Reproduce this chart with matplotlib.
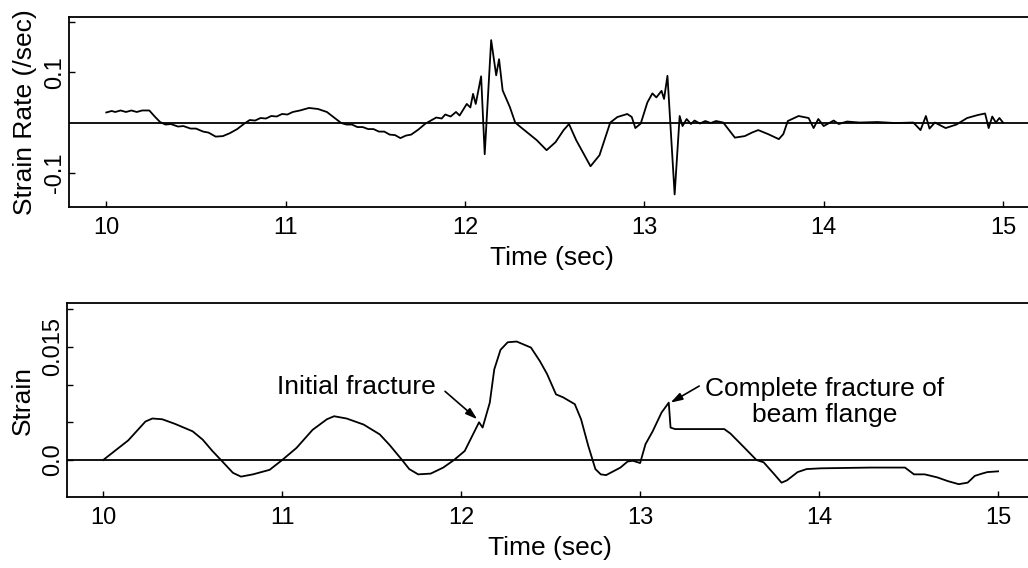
"""Strain rate and strain histories around beam flange fracture."""

import matplotlib
matplotlib.use("Agg")
import matplotlib.pyplot as plt

plt.rcParams["font.family"] = ["Liberation Sans", "DejaVu Sans"]

# top panel: strain rate (/sec)
RATE_T = [
    10.00, 10.03, 10.05, 10.08, 10.11, 10.14, 10.17, 10.20, 10.24, 10.27,
    10.30, 10.33, 10.36, 10.40, 10.43, 10.47, 10.50, 10.54, 10.57, 10.61,
    10.65, 10.69, 10.73, 10.77, 10.80, 10.83, 10.86, 10.89, 10.92, 10.95,
    10.98, 11.01, 11.04, 11.08, 11.13, 11.18, 11.23, 11.27, 11.31, 11.34,
    11.37, 11.40, 11.43, 11.46, 11.49, 11.52, 11.55, 11.58, 11.61, 11.64,
    11.67, 11.70, 11.74, 11.78, 11.80, 11.84, 11.87, 11.89, 11.92, 11.95,
    11.97, 12.01, 12.03, 12.045, 12.06, 12.09, 12.11, 12.146, 12.174, 12.19,
    12.21, 12.25, 12.28, 12.31, 12.365, 12.40, 12.455, 12.505, 12.55, 12.58,
    12.62, 12.70, 12.75, 12.81, 12.85, 12.905, 12.93, 12.95, 12.98, 13.017,
    13.045, 13.067, 13.096, 13.11, 13.129, 13.169, 13.197, 13.213, 13.236, 13.26,
    13.28, 13.31, 13.34, 13.37, 13.40, 13.44, 13.505, 13.56, 13.60, 13.635,
    13.69, 13.75, 13.775, 13.80, 13.86, 13.916, 13.944, 13.97, 14.00, 14.056,
    14.084, 14.13, 14.20, 14.30, 14.40, 14.50, 14.54, 14.57, 14.59, 14.62,
    14.68, 14.74, 14.80, 14.86, 14.90, 14.92, 14.94, 14.96, 14.98, 15.00,
]
RATE_V = [
    0.020, 0.023, 0.021, 0.024, 0.021, 0.024, 0.021, 0.024, 0.024, 0.012,
    0.001, -0.004, -0.003, -0.008, -0.007, -0.012, -0.012, -0.018, -0.020, -0.028,
    -0.027, -0.021, -0.013, -0.002, 0.005, 0.004, 0.009, 0.008, 0.013, 0.012,
    0.017, 0.016, 0.021, 0.024, 0.029, 0.027, 0.021, 0.010, -0.001, -0.004,
    -0.004, -0.009, -0.009, -0.013, -0.013, -0.018, -0.018, -0.024, -0.025, -0.031,
    -0.026, -0.024, -0.014, -0.002, 0.002, 0.010, 0.008, 0.016, 0.012, 0.021,
    0.014, 0.037, 0.030, 0.057, 0.037, 0.092, -0.063, 0.164, 0.094, 0.126,
    0.064, 0.031, 0.000, -0.009, -0.025, -0.035, -0.055, -0.039, -0.015, -0.003,
    -0.035, -0.087, -0.065, 0.000, 0.011, 0.017, 0.011, -0.011, -0.002, 0.040,
    0.058, 0.050, 0.063, 0.047, 0.093, -0.143, 0.013, -0.007, 0.007, -0.003,
    0.004, -0.002, 0.003, -0.001, 0.003, 0.000, -0.030, -0.027, -0.020, -0.015,
    -0.023, -0.033, -0.023, 0.003, 0.013, 0.009, -0.011, 0.007, -0.007, 0.004,
    -0.003, 0.002, 0.000, 0.001, -0.001, 0.000, -0.015, 0.013, -0.012, 0.000,
    -0.011, -0.004, 0.009, 0.015, 0.018, -0.011, 0.012, 0.000, 0.009, 0.000,
]

# bottom panel: strain
STRAIN_T = [
    10.00, 10.14, 10.236, 10.275, 10.33, 10.40, 10.50, 10.556, 10.61, 10.67,
    10.725, 10.77, 10.837, 10.93, 11.00, 11.08, 11.17, 11.25, 11.29, 11.36,
    11.455, 11.545, 11.60, 11.67, 11.71, 11.76, 11.83, 11.90, 11.96, 12.02,
    12.06, 12.10, 12.12, 12.16, 12.185, 12.22, 12.26, 12.31, 12.39, 12.44,
    12.48, 12.53, 12.57, 12.635, 12.67, 12.71, 12.75, 12.78, 12.81, 12.89,
    12.93, 12.96, 13.00, 13.03, 13.07, 13.12, 13.16, 13.17, 13.195, 13.47,
    13.505, 13.58, 13.65, 13.69, 13.75, 13.79, 13.82, 13.88, 13.93, 14.01,
    14.29, 14.48, 14.53, 14.59, 14.66, 14.72, 14.78, 14.83, 14.87, 14.91,
    14.94, 15.00,
]
STRAIN_V = [
    0.0000, 0.0026, 0.0051, 0.0055, 0.0054, 0.0048, 0.0038, 0.0027, 0.0012, -0.0003,
    -0.0017, -0.0022, -0.0019, -0.0013, 0.0000, 0.0016, 0.0040, 0.0054, 0.0058, 0.0055,
    0.0047, 0.0034, 0.0020, 0.0000, -0.0012, -0.0019, -0.0018, -0.0010, 0.0000, 0.0012,
    0.0031, 0.0050, 0.0043, 0.0076, 0.0120, 0.0146, 0.0156, 0.0157, 0.0149, 0.0131,
    0.0114, 0.0087, 0.0083, 0.0074, 0.0054, 0.0019, -0.0012, -0.0019, -0.0020, -0.0010,
    -0.0002, -0.0001, -0.0004, 0.0021, 0.0038, 0.0063, 0.0076, 0.0043, 0.0041, 0.0041,
    0.0035, 0.0017, 0.0000, -0.0003, -0.0019, -0.0030, -0.0027, -0.0016, -0.0012, -0.0011,
    -0.0010, -0.0010, -0.0019, -0.0019, -0.0023, -0.0028, -0.0032, -0.0030, -0.0021, -0.0018,
    -0.0016, -0.0015,
]

X_TICKS = [10, 11, 12, 13, 14, 15]
RATE_TICKS = [-0.1, 0.1, 0.2]
RATE_TICK_LABELS = ["-0.1", "0.1", ""]
STRAIN_TICKS = [0.0, 0.005, 0.01, 0.015, 0.02]
STRAIN_TICK_LABELS = ["0.0", "", "", "0.015", ""]

LW = 1.3


def style_axes(ax):
    ax.spines["right"].set_visible(False)
    for side in ("top", "left", "bottom"):
        ax.spines[side].set_linewidth(LW)
    ax.axhline(0, color="black", lw=LW)
    ax.set_xticks(X_TICKS)
    ax.set_xticklabels([str(t) for t in X_TICKS])
    ax.tick_params(direction="in", length=4, width=1, labelsize=17)
    ax.tick_params(axis="x", pad=7)
    ax.tick_params(axis="y", pad=2)
    ax.set_xlabel("Time (sec)", fontsize=19, labelpad=5)


def main():
    fig = plt.figure(figsize=(10.28, 5.68), dpi=100)

    ax1 = fig.add_axes([0.0671, 0.6356, 0.94, 0.3345])
    ax1.plot(RATE_T, RATE_V, color="black", lw=LW)
    ax1.set_xlim(9.792, 15.18)
    ax1.set_ylim(-0.168, 0.21)
    style_axes(ax1)
    ax1.set_yticks(RATE_TICKS)
    ax1.set_yticklabels(RATE_TICK_LABELS, rotation=90, va="center")
    ax1.set_ylabel("Strain Rate (/sec)", fontsize=19, labelpad=5)

    ax2 = fig.add_axes([0.0652, 0.125, 0.94, 0.3415])
    ax2.plot(STRAIN_T, STRAIN_V, color="black", lw=LW)
    ax2.set_xlim(9.798, 15.197)
    ax2.set_ylim(-0.0049, 0.0208)
    style_axes(ax2)
    ax2.set_yticks(STRAIN_TICKS)
    ax2.set_yticklabels(STRAIN_TICK_LABELS, rotation=90, va="center")
    ax2.set_ylabel("Strain", fontsize=19, labelpad=5)

    arrow = dict(arrowstyle="-|>,head_length=0.7,head_width=0.22",
                 color="black", lw=1.2, shrinkA=0, shrinkB=0)
    ax2.text(11.86, 0.0097, "Initial fracture", fontsize=19,
             ha="right", va="center")
    ax2.annotate("", xy=(12.09, 0.0054), xytext=(11.91, 0.0091),
                 arrowprops=arrow)
    ax2.text(14.03, 0.0077, "Complete fracture of\nbeam flange", fontsize=19,
             ha="center", va="center", linespacing=1.1)
    ax2.annotate("", xy=(13.17, 0.0076), xytext=(13.33, 0.0098),
                 arrowprops=arrow)

    fig.savefig("out.png", dpi=100)


if __name__ == "__main__":
    main()
